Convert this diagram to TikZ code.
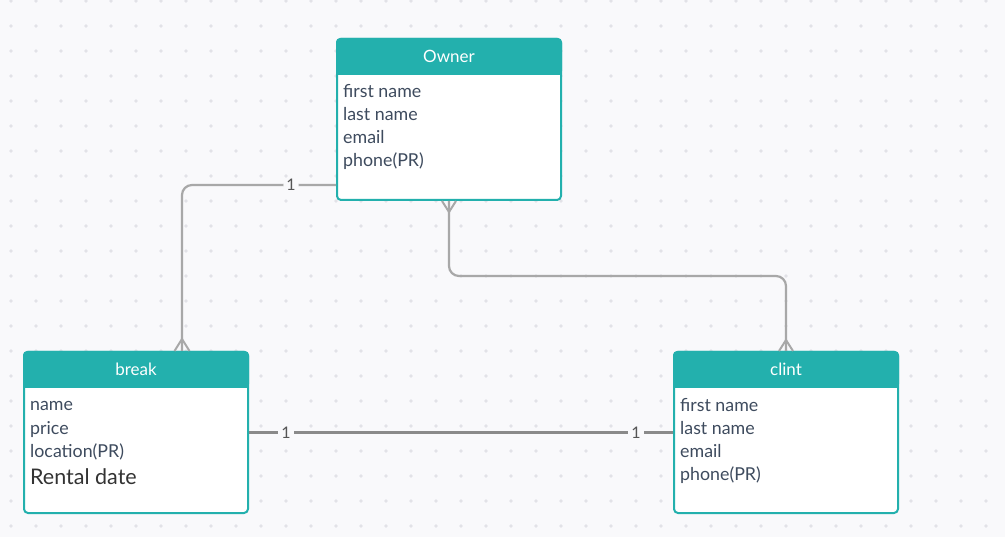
\documentclass[tikz,border=0pt]{standalone}
\usepackage{fontspec}
\setmainfont{Lato}
\usetikzlibrary{positioning}
\definecolor{erteal}{RGB}{35,176,173}
\definecolor{bgcol}{RGB}{249,249,251}
\definecolor{dotcol}{RGB}{226,226,231}
\definecolor{relgray}{RGB}{168,168,168}
\definecolor{reldark}{RGB}{138,138,138}
\definecolor{attrtext}{RGB}{62,75,94}
\definecolor{cardtext}{RGB}{85,85,85}

\tikzset{
  entity/.style={draw=erteal, line width=2pt, fill=white, rounded corners=4pt,
    minimum width=224pt, minimum height=161pt, inner sep=0pt},
  entitytitle/.style={text=white, inner sep=0pt, font=\fontsize{17}{20}\selectfont},
  attrs/.style={align=left, text=attrtext, inner sep=0pt, font=\fontsize{17.8}{23}\selectfont},
  rel/.style={draw=relgray, line width=2.2pt, rounded corners=10pt},
  reldark/.style={draw=reldark, line width=2.2pt},
  card/.style={fill=bgcol, text=cardtext, inner sep=3pt, font=\fontsize{16}{18}\selectfont},
  crow/.style={draw=relgray, line width=2pt},
}

\begin{document}
\begin{tikzpicture}[x=1pt, y=-1pt]
  \useasboundingbox (0,0) rectangle (1005,537);
  \fill[bgcol] (0,0) rectangle (1005,537);
  \foreach \x in {11,36,...,1005}
    \foreach \y in {1,26,...,537}
      \fill[dotcol] (\x,\y) circle (1.8pt);

  % entities
  \node[entity] (owner) at (449,119.5) {};
  \fill[erteal, rounded corners=4pt] (owner.north west) rectangle ([yshift=-37pt]owner.north east);
  \fill[erteal] ([yshift=-30pt]owner.north west) rectangle ([yshift=-37pt]owner.north east);
  \node[entitytitle] (owner-title) at ([yshift=-18.5pt]owner.north) {Owner};
  \node[attrs, anchor=base west] (owner-attrs) at ([shift={(7pt,-129pt)}]owner.north west)
    {first name\\last name\\email\\phone(PR)};

  \node[entity] (break) at (136,432.5) {};
  \fill[erteal, rounded corners=4pt] (break.north west) rectangle ([yshift=-37pt]break.north east);
  \fill[erteal] ([yshift=-30pt]break.north west) rectangle ([yshift=-37pt]break.north east);
  \node[entitytitle] (break-title) at ([yshift=-18.5pt]break.north) {break};
  \node[attrs, anchor=base west] (break-attrs) at ([shift={(7pt,-134pt)}]break.north west)
    {name\\price\\location(PR)\\[5pt]{\color[RGB]{51,51,51}\fontsize{21.5}{24}\selectfont Rental date}};

  \node[entity] (clint) at (786,432.5) {};
  \fill[erteal, rounded corners=4pt] (clint.north west) rectangle ([yshift=-37pt]clint.north east);
  \fill[erteal] ([yshift=-30pt]clint.north west) rectangle ([yshift=-37pt]clint.north east);
  \node[entitytitle] (clint-title) at ([yshift=-18.5pt]clint.north) {clint};
  \node[attrs, anchor=base west] (clint-attrs) at ([shift={(7pt,-129pt)}]clint.north west)
    {first name\\last name\\email\\phone(PR)};

  % relationships
  \coordinate (break-in) at ([xshift=46pt]break.north);
  \draw[rel] ([yshift=-65.5pt]owner.west) -| (break-in) node[card, pos=0.146] {1};
  \draw[crow] ([yshift=12pt]break-in) -- ++(-7.5pt,-12pt)
              ([yshift=12pt]break-in) -- ++(7.5pt,-12pt);

  \draw[rel] (owner.south) -- ++(0,75) -| (clint.north);
  \draw[crow] ([yshift=-11pt]owner.south) -- ++(-7pt,11pt)
              ([yshift=-11pt]owner.south) -- ++(7pt,11pt);
  \draw[crow] ([yshift=11pt]clint.north) -- ++(-7pt,-11pt)
              ([yshift=11pt]clint.north) -- ++(7pt,-11pt);

  \draw[reldark] (break.east) -- (clint.west)
    node[card, pos=0.087] {1}
    node[card, pos=0.913] {1};
\end{tikzpicture}
\end{document}
